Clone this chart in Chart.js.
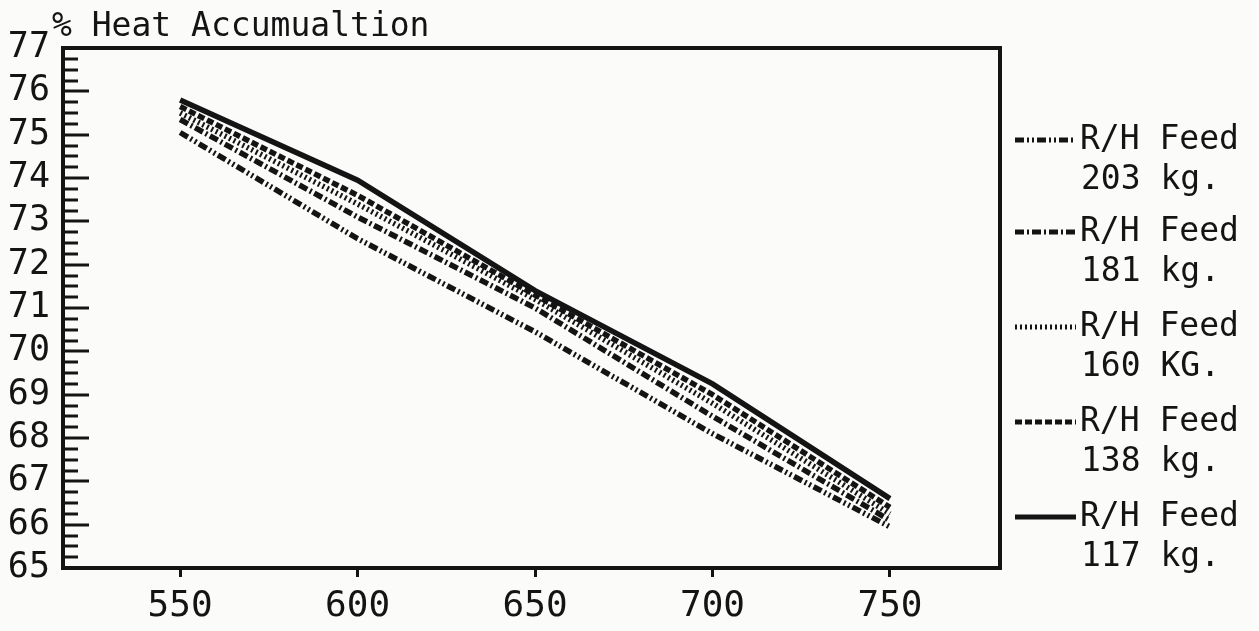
<!DOCTYPE html>
<html>
<head>
<meta charset="utf-8">
<script src="https://cdn.jsdelivr.net/npm/chart.js@4.4.1/dist/chart.umd.min.js"></script>
<style>
  html, body { margin: 0; padding: 0; background: #fbfbfa; }
  #wrap { width: 1259px; height: 631px; }
</style>
</head>
<body>
<div id="wrap"><canvas id="c" width="1259" height="631"></canvas></div>
<script>
// ข้อมูลจากกราฟ
const temps = [550, 600, 650, 700, 750];
const feed203 = [75.05, 72.6, 70.45, 68.1, 65.95];
const feed181 = [75.35, 73.1, 71.0, 68.5, 66.1];
const feed160 = [75.5, 73.4, 71.2, 68.8, 66.25];
const feed138 = [75.65, 73.6, 71.3, 69.0, 66.4];
const feed117 = [75.8, 73.95, 71.4, 69.25, 66.6];
const legendTop = ['R/H Feed', 'R/H Feed', 'R/H Feed', 'R/H Feed', 'R/H Feed'];
const legendBottom = ['203 kg.', '181 kg.', '160 KG.', '138 kg.', '117 kg.'];
const yTitle = '% Heat Accumualtion';

const INK = '#141414';
const FONT = '"DejaVu Sans Mono", monospace';

function pts(ys) {
  return temps.map((t, i) => ({ x: t, y: ys[i] }));
}

function ds(ys, dash) {
  return {
    data: pts(ys),
    borderColor: INK,
    borderWidth: 5.5,
    borderDash: dash,
    pointRadius: 0,
    tension: 0,
    fill: false
  };
}

const dashes = [[9, 3, 2, 3, 2, 3], [9, 3, 2, 3], [2, 3], [7, 3], []];

const boxPlugin = {
  id: 'box',
  afterDraw(chart) {
    const { ctx, chartArea: a, scales } = chart;
    const y = scales.y;
    ctx.save();
    ctx.strokeStyle = INK;
    // khung
    ctx.lineWidth = 4;
    ctx.strokeRect(a.left, a.top, a.right - a.left, a.bottom - a.top);
    // vạch chia trục y
    ctx.lineWidth = 3;
    for (let v = 65; v <= 77; v += 0.25) {
      const py = Math.round(y.getPixelForValue(v));
      const major = Math.abs(v - Math.round(v)) < 0.01;
      ctx.beginPath();
      ctx.moveTo(a.left, py);
      ctx.lineTo(a.left + (major ? 26 : 15), py);
      ctx.stroke();
    }
    // tiêu đề trục y
    ctx.fillStyle = INK;
    ctx.font = '33px ' + FONT;
    ctx.textBaseline = 'middle';
    ctx.textAlign = 'left';
    ctx.fillText(yTitle, 52, 27);
    // chú giải
    const rowTop = [140, 232, 327, 422, 517];
    chart.data.datasets.forEach((d, i) => {
      const ly = rowTop[i];
      ctx.lineWidth = 5;
      ctx.setLineDash(d.borderDash);
      ctx.beginPath();
      ctx.moveTo(1015, ly);
      ctx.lineTo(1076, ly);
      ctx.stroke();
      ctx.setLineDash([]);
      ctx.fillText(legendTop[i], 1080, ly);
      ctx.fillText(legendBottom[i], 1081, ly + 40);
    });
    ctx.restore();
  }
};

new Chart(document.getElementById('c'), {
  type: 'line',
  data: {
    datasets: [ds(feed203, dashes[0]), ds(feed181, dashes[1]), ds(feed160, dashes[2]),
               ds(feed138, dashes[3]), ds(feed117, dashes[4])]
  },
  options: {
    responsive: false,
    animation: false,
    layout: { padding: { top: 48, right: 259, left: 0, bottom: 0 } },
    plugins: { legend: { display: false }, tooltip: { enabled: false } },
    scales: {
      x: {
        type: 'linear',
        min: 517,
        max: 781,
        afterFit: s => { s.height = 63; },
        afterBuildTicks: s => { s.ticks = s.ticks.filter(t => t.value % 50 === 0); },
        border: { display: false },
        grid: { drawOnChartArea: false, drawTicks: true, tickLength: 9, lineWidth: 3, color: INK },
        ticks: { stepSize: 50, color: INK, font: { family: FONT, size: 36 }, padding: 8, maxRotation: 0, autoSkip: false }
      },
      y: {
        min: 65,
        max: 77,
        afterFit: s => { s.width = 63; },
        border: { display: false },
        grid: { display: false, drawTicks: false },
        ticks: { stepSize: 1, color: INK, font: { family: FONT, size: 35 }, padding: 13, autoSkip: false }
      }
    }
  },
  plugins: [boxPlugin]
});
</script>
</body>
</html>
